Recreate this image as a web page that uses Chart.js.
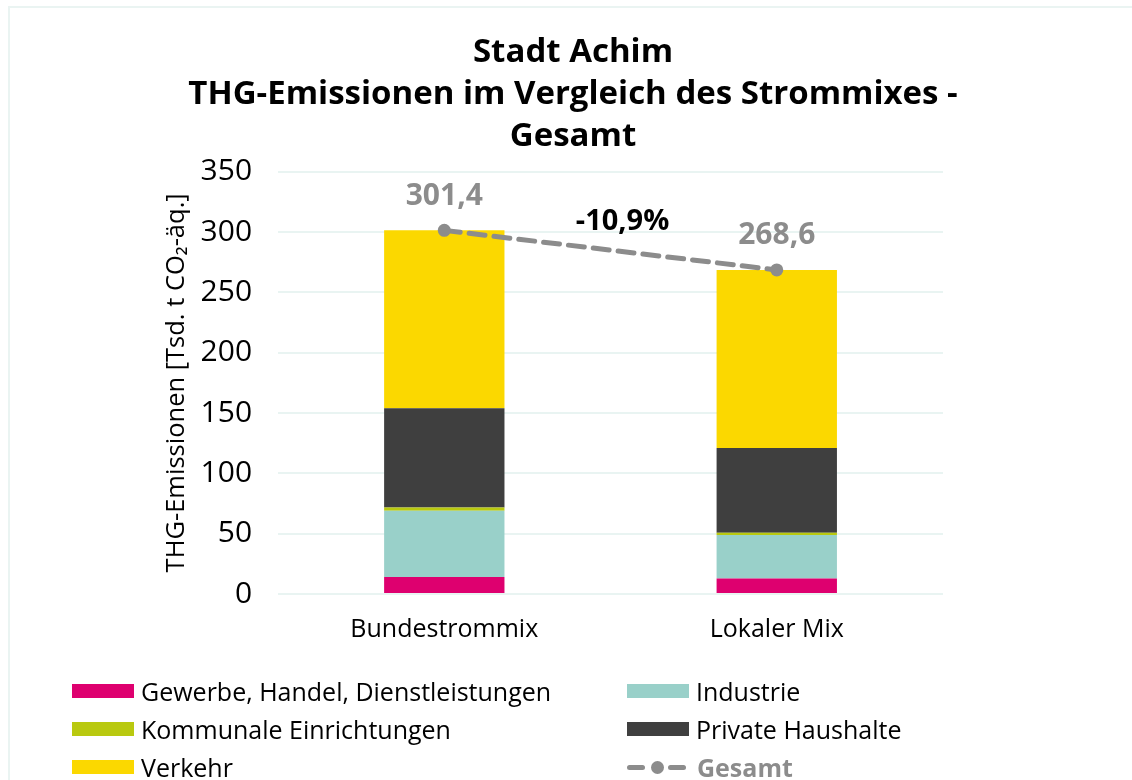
<!DOCTYPE html>
<html lang="de">
<head>
<meta charset="utf-8">
<title>Stadt Achim – THG-Emissionen</title>
<script src="https://cdn.jsdelivr.net/npm/chart.js@4"></script>
<style>
  html, body { margin: 0; padding: 0; background: #fff; }
  body { width: 1132px; height: 780px; position: relative; overflow: hidden; font-family: "Open Sans", "Noto Sans", sans-serif; }
  .frame { position: absolute; left: 8px; top: 6px; width: 1200px; height: 900px; border-left: 2px solid #eaf4f2; border-top: 2px solid #eaf4f2; }
  #chart { position: absolute; left: 0; top: 0; }
  #legend { position: absolute; left: 72px; top: 676px; display: grid; grid-template-columns: 555px 400px; row-gap: 8px; }
  .item { display: flex; align-items: center; height: 30px; font-size: 25px; color: #000; }
  .box { width: 62px; height: 14px; margin-right: 7px; }
  .line-key { position: relative; width: 62px; height: 14px; margin-right: 8px; }
  .line-key span { position: absolute; top: 5px; height: 5px; border-radius: 3px; }
  .line-key i { position: absolute; left: 24px; top: 1px; width: 13px; height: 13px; border-radius: 50%; }
</style>
</head>
<body>
<div class="frame"></div>
<canvas id="chart" width="1132" height="780"></canvas>
<div id="legend"></div>
<script>
// Kategorien (Strommix-Varianten)
const categories = ['Bundestrommix', 'Lokaler Mix'];

// Sektoren, Tsd. t CO2-äq.
const gewerbe = [14.0, 12.8];
const industrie = [55.0, 36.1];
const kommunal = [2.6, 1.9];
const haushalte = [82.3, 70.3];
const verkehr = [147.5, 147.5];
const gesamt = [301.4, 268.6];

const yTicks = [0, 50, 100, 150, 200, 250, 300, 350];

const FONT = '"Open Sans", "Noto Sans", sans-serif';
const fmt = v => v.toFixed(1).replace('.', ',');
const grey = '#8c8c8c';

// Labels über der Gesamt-Linie und Veränderung in %
const labelPlugin = {
  id: 'labels',
  afterLayout(chart) {
    // Titel sitzt im Original etwas rechts von der Mitte
    chart.titleBlock.left += 21;
    chart.titleBlock.right += 21;
  },
  afterDatasetsDraw(chart) {
    const ctx = chart.ctx;
    const meta = chart.getDatasetMeta(5);
    ctx.save();
    ctx.textAlign = 'center';
    ctx.textBaseline = 'middle';
    ctx.font = 'bold 30px ' + FONT;
    ctx.fillStyle = grey;
    meta.data.forEach((pt, i) => {
      ctx.fillText(fmt(gesamt[i]), pt.x, pt.y - 34);
    });
    const a = meta.data[0], b = meta.data[1];
    const change = (gesamt[1] / gesamt[0] - 1) * 100;
    ctx.fillStyle = '#000';
    ctx.font = 'bold 29px ' + FONT;
    ctx.fillText(fmt(change) + '%', (a.x + b.x) / 2 + 12, (a.y + b.y) / 2 - 28);
    ctx.restore();
  }
};

const chart = new Chart(document.getElementById('chart'), {
  type: 'bar',
  data: {
    labels: categories,
    datasets: [
      { label: 'Gewerbe, Handel, Dienstleistungen', data: gewerbe, backgroundColor: '#de006f', stack: 's', order: 1 },
      { label: 'Industrie', data: industrie, backgroundColor: '#99d0c9', stack: 's', order: 1 },
      { label: 'Kommunale Einrichtungen', data: kommunal, backgroundColor: '#b9c90f', stack: 's', order: 1 },
      { label: 'Private Haushalte', data: haushalte, backgroundColor: '#3f3f3f', stack: 's', order: 1 },
      { label: 'Verkehr', data: verkehr, backgroundColor: '#fbd800', stack: 's', order: 1 },
      {
        type: 'line', label: 'Gesamt', data: gesamt, stack: 'g', order: 0,
        borderColor: grey, backgroundColor: grey, borderWidth: 5,
        borderDash: [16, 9], borderCapStyle: 'round',
        pointRadius: 6.5, pointBackgroundColor: grey, pointBorderWidth: 0
      }
    ]
  },
  options: {
    responsive: false,
    animation: false,
    datasets: { bar: { barPercentage: 0.362, categoryPercentage: 1 } },
    layout: { padding: { top: 32, left: 161, right: 189, bottom: 122 } },
    plugins: {
      legend: { display: false },
      tooltip: { enabled: false },
      title: {
        display: true,
        text: ['Stadt Achim', 'THG-Emissionen im Vergleich des Strommixes -', 'Gesamt'],
        color: '#000',
        font: { size: 33, weight: 'bold', family: FONT, lineHeight: 1.27 },
        padding: { top: 0, bottom: 14 }
      }
    },
    scales: {
      x: {
        stacked: true,
        grid: { display: false },
        border: { display: false },
        ticks: { color: '#000', font: { size: 25, family: FONT }, padding: 13 }
      },
      y: {
        stacked: true,
        min: 0, max: 350,
        afterBuildTicks: axis => { axis.ticks = yTicks.map(v => ({ value: v })); },
        grid: { color: '#e9f4f2', lineWidth: 2, drawTicks: false },
        border: { display: false },
        ticks: { color: '#000', font: { size: 30, family: FONT }, padding: 26 },
        title: {
          display: true,
          text: 'THG-Emissionen [Tsd. t CO₂-äq.]',
          color: '#000',
          font: { size: 25.5, family: FONT },
          padding: { top: 0, bottom: -17 }
        }
      }
    }
  },
  plugins: [labelPlugin]
});

// HTML-Legende, zwei Spalten
const legend = document.getElementById('legend');
chart.data.datasets.forEach(ds => {
  const item = document.createElement('div');
  item.className = 'item';
  if (ds.type === 'line') {
    item.innerHTML = '<div class="line-key"><span style="left:0;width:18px;background:' + ds.borderColor + '"></span>' +
      '<i style="background:' + ds.borderColor + '"></i><span style="left:41px;width:18px;background:' + ds.borderColor + '"></span></div>';
    item.style.color = ds.borderColor;
    item.style.fontWeight = 'bold';
  } else {
    item.innerHTML = '<div class="box" style="background:' + ds.backgroundColor + '"></div>';
  }
  item.appendChild(document.createTextNode(ds.label));
  legend.appendChild(item);
});
</script>
</body>
</html>
